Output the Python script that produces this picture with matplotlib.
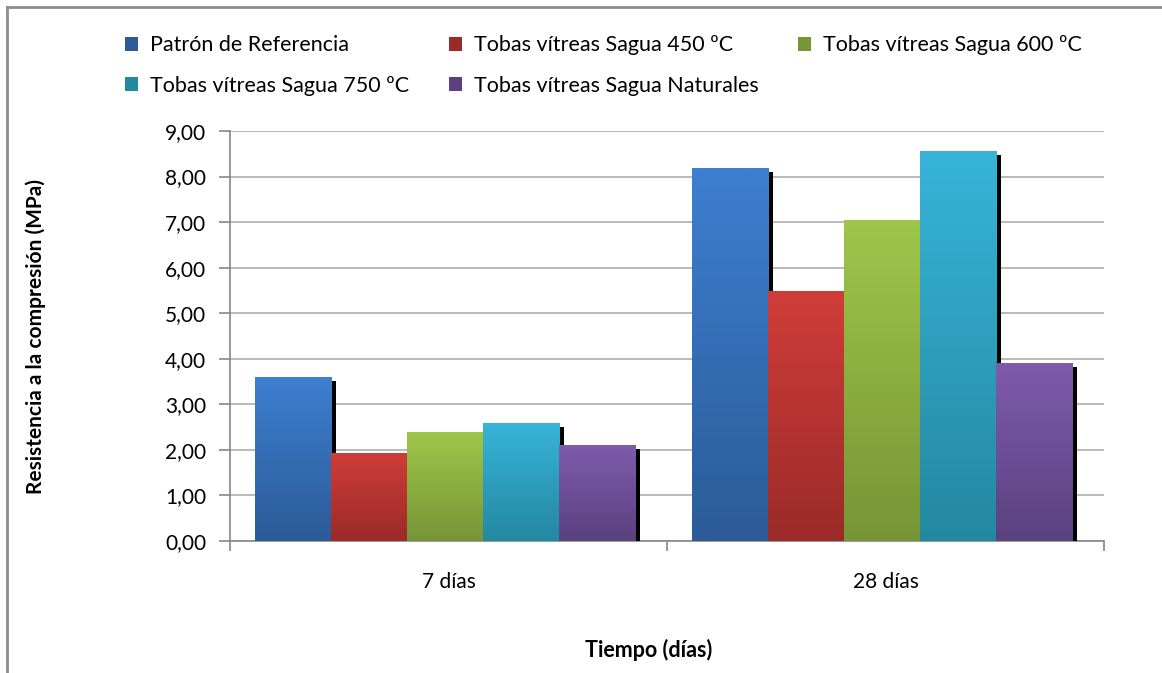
import numpy as np
import matplotlib
matplotlib.use("Agg")
from matplotlib import pyplot as plt
from matplotlib.colors import LinearSegmentedColormap
from matplotlib.patches import Patch
from matplotlib.lines import Line2D
from matplotlib.transforms import ScaledTranslation

plt.rcParams['font.family'] = ['Lato', 'DejaVu Sans']

categorias = ["7 días", "28 días"]
series = ["Patrón de Referencia", "Tobas vítreas Sagua 450 ºC", "Tobas vítreas Sagua 600 ºC",
          "Tobas vítreas Sagua 750 ºC", "Tobas vítreas Sagua Naturales"]
patron = [3.60, 8.17]
t450 = [1.93, 5.47]
t600 = [2.39, 7.04]
t750 = [2.57, 8.56]
naturales = [2.09, 3.89]
valores = [patron, t450, t600, t750, naturales]
yticks = np.arange(0, 9.01, 1.0)

# colores (arriba, abajo) del degradado
colores = [("#3D7FD0", "#2C5B98"), ("#D03D39", "#9B2B29"), ("#9EC64A", "#779536"),
           ("#37B4D8", "#2488A1"), ("#7E5BAB", "#5B4180")]

fig = plt.figure(figsize=(11.62, 6.73), dpi=100)
ax = fig.add_axes([230/1162, 132/673, 874/1162, 410/673])

x = np.arange(len(categorias))
ancho = 0.174
sombra = ScaledTranslation(0.045, -0.035, fig.dpi_scale_trans)

for i, (vals, (c_top, c_bot)) in enumerate(zip(valores, colores)):
    pos = x + (i - 2) * ancho - 0.007
    sh = ax.bar(pos, vals, ancho, color="black", zorder=2 + 2*i, linewidth=0)
    for p in sh:
        p.set_transform(ax.transData + sombra)
    bars = ax.bar(pos, vals, ancho, color=c_top, zorder=3 + 2*i, linewidth=0, label=series[i])
    cmap = LinearSegmentedColormap.from_list("g%d" % i, [c_bot, c_top])
    grad = np.linspace(0, 1, 256).reshape(-1, 1)
    for p in bars:
        x0, w, h = p.get_x(), p.get_width(), p.get_height()
        ax.imshow(grad, extent=[x0, x0 + w, 0, h], origin="lower", aspect="auto",
                  cmap=cmap, zorder=3 + 2*i, interpolation="bilinear")

ax.set_xlim(-0.5, 1.5)
ax.set_ylim(0, 9)
ax.set_yticks(yticks)
ax.set_yticklabels([("%.2f" % v).replace(".", ",") for v in yticks])
ax.yaxis.grid(True, color="#B4B4B4", linewidth=1.3, zorder=0)
ax.set_axisbelow(True)

ax.set_xticks(x)
ax.set_xticklabels(categorias, fontsize=15)
ax.tick_params(axis="x", which="major", length=0, pad=22)
ax.set_xticks([-0.5, 0.5, 1.5], minor=True)
ax.tick_params(axis="x", which="minor", length=7, color="#868686", width=1.2)
ax.tick_params(axis="y", length=8, color="#868686", width=1.2, labelsize=15, pad=9)

for s in ["top", "right"]:
    ax.spines[s].set_visible(False)
ax.spines["left"].set_color("#868686")
ax.spines["bottom"].set_color("#868686")
ax.spines["left"].set_linewidth(1.2)
ax.spines["bottom"].set_linewidth(1.2)

ax.set_ylabel("Resistencia a la compresión (MPa)", fontsize=15, fontweight="bold")
ax.yaxis.set_label_coords(-0.21, 0.5)
ax.set_xlabel("Tiempo (días)", fontsize=15.5, fontweight="bold")
ax.xaxis.set_label_coords(0.479, -0.24)

# leyenda
handles = [Patch(facecolor=c[1], edgecolor="none") for c in colores]
orden = [0, 3, 1, 4, 2]
fig.legend([handles[k] for k in orden], [series[k] for k in orden], ncol=3,
           loc="upper left", bbox_to_anchor=(106/1162, 1 - 16/673), frameon=False,
           fontsize=15.5, handlelength=0.6, handleheight=0.6, handletextpad=0.55,
           columnspacing=1.85, labelspacing=0.95)

# marco exterior
fig.add_artist(Line2D([7/1162, 1], [1 - 7/673, 1 - 7/673], color="#8C8C8C", linewidth=2))
fig.add_artist(Line2D([7/1162, 7/1162], [0, 1 - 7/673], color="#8C8C8C", linewidth=2))

fig.savefig("out.png", dpi=100)
